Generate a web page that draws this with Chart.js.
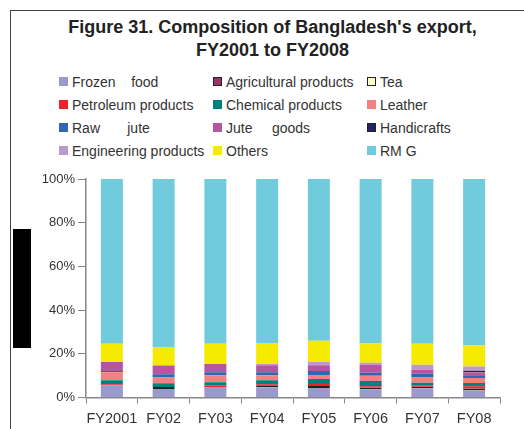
<!DOCTYPE html>
<html>
<head>
<meta charset="utf-8">
<script src="https://cdn.jsdelivr.net/npm/chart.js@4"></script>
<style>
  body { margin: 0; background: #fff; font-family: "Liberation Sans", Arial, sans-serif; }
  #wrap { position: relative; width: 524px; height: 429px; overflow: hidden; }
  #frame { position: absolute; left: 10px; top: 10px; width: 600px; height: 600px; border-left: 1px solid #444; border-top: 1px solid #444; }
  #title { position: absolute; left: 0; width: 545px; top: 16px; text-align: center; font-weight: bold; font-size: 18px; line-height: 23px; color: #222; }
  #legend { position: absolute; left: 59px; top: 70px; display: grid; grid-template-columns: 154px 154px 154px; grid-auto-rows: 23px; font-size: 14px; color: #333; }
  .item { display: flex; align-items: center; white-space: pre; }
  .box { width: 9px; height: 9px; margin-right: 4px; box-sizing: border-box; }
  #chart { position: absolute; left: 0; top: 0; }
</style>
</head>
<body>
<div id="wrap">
  <div id="frame"></div>
  <div id="title">Figure 31. Composition of Bangladesh's export,<br>FY2001 to FY2008</div>
  <div id="legend"></div>
  <canvas id="chart" width="524" height="429"></canvas>
</div>
<script>
const years = ['FY2001', 'FY02', 'FY03', 'FY04', 'FY05', 'FY06', 'FY07', 'FY08'];
const yTicks = [0, 20, 40, 60, 80, 100];

// shares of total export, %
const frozenFood   = [5.6, 3.9, 4.6, 4.7, 4.4, 3.8, 4.1, 3.2];
const agricultural = [null, 0.9, null, 0.9, 0.9, 0.8, 0.8, 0.9];
const tea          = [null, null, null, null, null, null, null, null];
const petroleum    = [0.5, 0, 0.9, 0.5, 0.9, 0.6, 0.5, 1.1];
const chemical     = [1.8, 1.7, 1.5, 1.8, 2.3, 2.4, 1.4, 1.4];
const leather      = [3.7, 2.7, 3.2, 2.3, 1.8, 2.3, 2.3, 2.3];
const rawJute      = [0.5, 1.4, 1.4, 1.4, 1.8, 1.4, 1.8, 0.9];
const juteGoods    = [4.1, 4.1, 3.7, 3.2, 2.7, 3.7, 1.8, 1.8];
const handicrafts  = [null, null, null, null, null, null, null, 0.8];
const engineering  = [0, 0, 0, 0.5, 1.4, 0.9, 2.3, 1.8];
const others       = [8.4, 8.4, 9.3, 9.6, 9.8, 8.8, 9.6, 9.6];
const rmg          = [75.4, 76.9, 75.4, 75.1, 74.0, 75.3, 75.4, 76.2];

const series = [
    { label: 'Frozen    food', data: frozenFood, color: '#9999cc' },
    { label: 'Agricultural products', data: agricultural, color: '#993366', border: '#222' },
    { label: 'Tea', data: tea, color: '#ffffcc', border: '#222' },
    { label: 'Petroleum products', data: petroleum, color: '#ee2228' },
    { label: 'Chemical products', data: chemical, color: '#00837f' },
    { label: 'Leather', data: leather, color: '#f38181' },
    { label: 'Raw       jute', data: rawJute, color: '#3366b2' },
    { label: 'Jute     goods', data: juteGoods, color: '#b855a0' },
    { label: 'Handicrafts', data: handicrafts, color: '#232366', border: '#222' },
    { label: 'Engineering products', data: engineering, color: '#bb99cc' },
    { label: 'Others', data: others, color: '#f6eb00' },
    { label: 'RM G', data: rmg, color: '#70ccdd' }
];

const legend = document.getElementById('legend');
series.forEach(s => {
    const item = document.createElement('div');
    item.className = 'item';
    const box = document.createElement('span');
    box.className = 'box';
    box.style.background = s.color;
    if (s.border) box.style.border = '1px solid ' + s.border;
    item.appendChild(box);
    item.appendChild(document.createTextNode(s.label));
    legend.appendChild(item);
});

const blackBox = {
    id: 'blackBox',
    afterDraw(chart) {
        const ctx = chart.ctx;
        ctx.save();
        ctx.fillStyle = '#000';
        ctx.fillRect(13, 229, 18, 119);
        ctx.restore();
    }
};

new Chart(document.getElementById('chart'), {
    type: 'bar',
    data: {
        labels: years,
        datasets: series.map(s => ({
            label: s.label,
            data: s.data,
            backgroundColor: s.color,
            borderColor: s.border || s.color,
            borderWidth: s.border ? 2 : 0,
            borderSkipped: false,
            barPercentage: 0.85,
            categoryPercentage: 0.5
        }))
    },
    options: {
        responsive: false,
        animation: false,
        layout: { padding: { top: 179, right: 24, left: 0, bottom: 0 } },
        plugins: { legend: { display: false }, title: { display: false }, tooltip: { enabled: false } },
        scales: {
            x: {
                stacked: true,
                grid: { drawOnChartArea: false, drawTicks: true, tickLength: 6, color: '#888', offset: true },
                border: { color: '#888', width: 1.5 },
                ticks: { color: '#333', font: { size: 14.5, family: 'Liberation Sans' }, padding: 7, maxRotation: 0, autoSkip: false },
                afterFit(scale) { scale.height = 31.5; }
            },
            y: {
                stacked: true,
                min: 0,
                max: 100,
                afterBuildTicks(scale) { scale.ticks = yTicks.map(v => ({ value: v })); },
                grid: { drawOnChartArea: false, drawTicks: true, tickLength: 8, color: '#888' },
                border: { color: '#888', width: 1.5 },
                ticks: { color: '#333', font: { size: 13, family: 'Liberation Sans' }, padding: 3, callback: v => v + '%' },
                afterFit(scale) { scale.width = 86; }
            }
        }
    },
    plugins: [blackBox]
});
</script>
</body>
</html>
